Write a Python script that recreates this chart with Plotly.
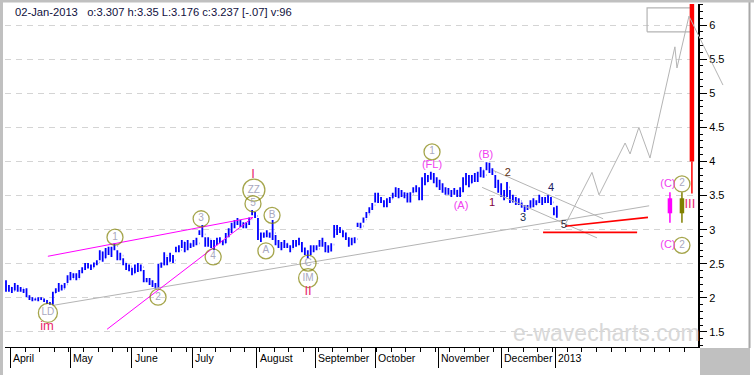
import plotly.graph_objects as go

header = "02-Jan-2013\u00a0\u00a0 o:3.307 h:3.35 L:3.176 c:3.237 [-.07] v:96"

highs = [2.26, 2.19, 2.16, 2.22, 2.19, 2.16, 2.13, 2.14, 2.04, 2.01,
         1.99, 2.01, 2.01, 1.99, 1.97, 1.94, 2.09, 2.14, 2.22, 2.19,
         2.22, 2.33, 2.38, 2.36, 2.36, 2.41, 2.45, 2.51, 2.51, 2.49,
         2.52, 2.55, 2.70, 2.68, 2.73, 2.75, 2.75, 2.80, 2.70, 2.66,
         2.58, 2.51, 2.49, 2.44, 2.49, 2.51, 2.49, 2.41, 2.29, 2.29,
         2.26, 2.22, 2.50, 2.52, 2.67, 2.60, 2.66, 2.63, 2.75, 2.77,
         2.85, 2.82, 2.85, 2.80, 2.85, 2.88, 2.99, 3.07, 2.89, 2.89,
         2.85, 2.85, 2.88, 2.89, 2.85, 2.95, 3.02, 3.10, 3.14, 3.17,
         3.14, 3.11, 3.11, 3.18, 3.29, 3.26, 3.17, 2.96, 2.96, 2.99,
         2.96, 3.14, 2.92, 2.85, 2.82, 2.85, 2.80, 2.77, 2.85, 2.85,
         2.88, 2.82, 2.74, 2.70, 2.77, 2.77, 2.77, 2.85, 2.88, 2.82,
         2.77, 2.80, 3.07, 3.07, 3.04, 2.99, 2.96, 2.89, 2.88, 2.89,
         3.10, 3.10, 3.18, 3.26, 3.33, 3.39, 3.54, 3.54, 3.48, 3.43,
         3.46, 3.48, 3.54, 3.62, 3.61, 3.58, 3.55, 3.54, 3.55, 3.62,
         3.65, 3.62, 3.77, 3.83, 3.80, 3.85, 3.83, 3.77, 3.73, 3.68,
         3.62, 3.61, 3.58, 3.61, 3.58, 3.62, 3.77, 3.83, 3.80, 3.80,
         3.83, 3.85, 3.92, 3.87, 3.99, 3.98, 3.90, 3.80, 3.73, 3.68,
         3.58, 3.70, 3.58, 3.51, 3.48, 3.46, 3.40, 3.36, 3.36, 3.43,
         3.46, 3.43, 3.51, 3.48, 3.48, 3.51, 3.48, 3.33, 3.35]
lows = [2.09, 2.09, 2.07, 2.11, 2.09, 2.09, 2.07, 2.01, 1.97, 1.95,
        1.96, 1.95, 1.97, 1.94, 1.91, 1.90, 1.90, 2.07, 2.09, 2.11,
        2.14, 2.22, 2.26, 2.29, 2.26, 2.29, 2.36, 2.41, 2.43, 2.41,
        2.45, 2.48, 2.55, 2.53, 2.58, 2.63, 2.60, 2.70, 2.55, 2.55,
        2.48, 2.41, 2.39, 2.33, 2.36, 2.38, 2.39, 2.23, 2.23, 2.19,
        2.16, 2.13, 2.14, 2.44, 2.48, 2.48, 2.53, 2.51, 2.67, 2.67,
        2.73, 2.67, 2.70, 2.73, 2.75, 2.77, 2.92, 2.89, 2.75, 2.75,
        2.73, 2.70, 2.77, 2.80, 2.77, 2.80, 2.89, 2.95, 3.02, 3.07,
        3.04, 3.02, 3.02, 3.07, 3.21, 3.17, 2.85, 2.82, 2.88, 2.89,
        2.88, 2.85, 2.77, 2.73, 2.70, 2.73, 2.73, 2.67, 2.73, 2.75,
        2.77, 2.67, 2.63, 2.58, 2.63, 2.67, 2.70, 2.75, 2.75, 2.67,
        2.66, 2.68, 2.88, 2.92, 2.95, 2.89, 2.85, 2.75, 2.77, 2.80,
        3.04, 3.02, 3.10, 3.17, 3.24, 3.29, 3.40, 3.39, 3.39, 3.33,
        3.33, 3.39, 3.46, 3.48, 3.46, 3.48, 3.46, 3.40, 3.40, 3.54,
        3.55, 3.43, 3.43, 3.65, 3.70, 3.73, 3.68, 3.62, 3.58, 3.54,
        3.51, 3.51, 3.48, 3.51, 3.48, 3.48, 3.55, 3.65, 3.62, 3.68,
        3.70, 3.70, 3.77, 3.76, 3.87, 3.83, 3.80, 3.61, 3.54, 3.48,
        3.43, 3.48, 3.39, 3.40, 3.36, 3.36, 3.32, 3.26, 3.29, 3.32,
        3.33, 3.36, 3.39, 3.36, 3.39, 3.39, 3.36, 3.21, 3.176]
closes = [2.12, 2.15, 2.10, 2.18, 2.12, 2.14, 2.09, 2.03, 1.99, 2.00,
          1.98, 1.99, 1.98, 1.96, 1.93, 1.92, 2.07, 2.10, 2.19, 2.13,
          2.20, 2.30, 2.28, 2.33, 2.28, 2.38, 2.42, 2.48, 2.45, 2.44,
          2.50, 2.52, 2.67, 2.58, 2.70, 2.66, 2.72, 2.76, 2.60, 2.62,
          2.52, 2.44, 2.46, 2.36, 2.45, 2.42, 2.45, 2.26, 2.27, 2.22,
          2.20, 2.16, 2.46, 2.48, 2.62, 2.52, 2.62, 2.55, 2.72, 2.70,
          2.82, 2.72, 2.80, 2.76, 2.82, 2.80, 2.96, 2.93, 2.80, 2.86,
          2.76, 2.82, 2.84, 2.82, 2.80, 2.92, 2.98, 3.06, 3.10, 3.12,
          3.08, 3.05, 3.08, 3.15, 3.24, 3.20, 2.88, 2.90, 2.93, 2.92,
          2.90, 2.95, 2.82, 2.78, 2.76, 2.80, 2.76, 2.72, 2.80, 2.83,
          2.80, 2.70, 2.66, 2.62, 2.72, 2.74, 2.72, 2.82, 2.80, 2.70,
          2.72, 2.78, 3.02, 2.97, 3.00, 2.92, 2.88, 2.80, 2.84, 2.86,
          3.08, 3.05, 3.15, 3.22, 3.30, 3.36, 3.50, 3.44, 3.42, 3.36,
          3.42, 3.45, 3.52, 3.56, 3.50, 3.52, 3.50, 3.44, 3.52, 3.58,
          3.60, 3.46, 3.74, 3.70, 3.76, 3.78, 3.72, 3.66, 3.62, 3.57,
          3.54, 3.56, 3.52, 3.58, 3.50, 3.58, 3.72, 3.70, 3.68, 3.76,
          3.74, 3.80, 3.88, 3.80, 3.92, 3.86, 3.84, 3.66, 3.60, 3.52,
          3.48, 3.62, 3.44, 3.46, 3.40, 3.42, 3.35, 3.30, 3.33, 3.40,
          3.36, 3.40, 3.46, 3.40, 3.44, 3.42, 3.40, 3.26, 3.237]
first_open = 2.20

month_labels = ["April", "May", "June", "July", "August", "September",
                "October", "November", "December", "2013"]
month_pos = [1.5, 22, 43, 63.5, 85.5, 105.5, 126, 147.5, 169, 187.5]

y_ticks = [1.5, 2, 2.5, 3, 3.5, 4, 4.5, 5, 5.5, 6]
y_ticktext = ["1.5", "2", "2.5", "3", "3.5", "4", "4.5", "5", "5.5", "6"]

# wave-count trend lines (bar index, price)
mag_upper_x, mag_upper_y = [14.3, 84.3], [2.61, 3.18]
mag_lower_x, mag_lower_y = [34.5, 84.3], [1.54, 3.18]
gray_long_x, gray_long_y = [16.0, 219.5], [1.89, 3.35]
chan_up_x, chan_up_y = [166.2, 203.8], [3.87, 3.16]
chan_lo_x, chan_lo_y = [162.5, 201.7], [3.62, 2.88]
red_h_x, red_h_y = [183.3, 215.4], [2.96, 2.96]
red_s_x, red_s_y = [190.8, 219.1], [3.05, 3.18]
proj_x = [190.8, 200.0, 202.4, 211.3, 213.0, 216.0, 219.8, 228.3, 229.0, 233.1, 244.7]
proj_y = [3.07, 3.84, 3.51, 4.27, 4.11, 4.50, 4.05, 5.68, 5.37, 6.13, 5.12]
box_x, box_y = [218.8, 234.5], [5.90, 6.25]

# target markers: x, thin low, thin high, thick low, thick high
tgt_C = [226.6, 3.10, 3.55, 3.24, 3.46]
tgt_2 = [230.7, 3.10, 3.55, 3.24, 3.46]
tgt_III = [234.1, 3.53, 4.0, 4.0, 6.5]

# circled labels
circ_text = ["LD", "1", "2", "3", "4", "5", "ZZ", "B", "A", "C", "IM", "1", "2", "2"]
circ_x = [14.3, 37.2, 51.9, 66.6, 70.7, 84.3, 84.6, 90.8, 88.7, 103.1, 103.1, 145.4, 230.7, 230.7]
circ_y = [1.78, 2.89, 2.01, 3.16, 2.60, 3.38, 3.58, 3.21, 2.69, 2.51, 2.29, 4.14, 3.67, 2.77]
circ_size = [19, 16, 16, 16, 16, 16, 22, 16, 16, 16, 19, 16, 16, 16]

crim_text = ["im", "I", "II", "III"]
crim_x = [14.0, 84.3, 103.1, 233.4]
crim_y = [1.57, 3.80, 2.09, 3.36]

mag_text = ["(FL)", "(A)", "(B)", "(C)", "(C)"]
mag_x = [145.4, 155.3, 163.8, 225.9, 225.9]
mag_y = [3.95, 3.35, 4.09, 3.67, 2.77]

sub_text = ["1", "2", "3", "4", "5"]
sub_x = [165.9, 171.3, 176.5, 186.0, 190.4]
sub_y = [3.39, 3.83, 3.17, 3.60, 3.07]
sub_col = ["#800040", "#603010", "#203050", "#202060", "#303040"]

# ---------------------------------------------------------------
idx = list(range(len(highs)))
opens = [first_open] + closes[:-1]

X0, X1 = -0.34, 236.18
Y0, Y1 = 1.280, 6.308
W, H = 754, 375
ML, MR, MT, MB = 5, 29, 4, 28
pw = W - ML - MR
ph = H - MT - MB
main_frac = 693 / pw
X1b = X0 + (X1 - X0) / main_frac

FONT = "Liberation Sans, Arial, sans-serif"

fig = go.Figure()

def line(x, y, color, width=1, ax="x"):
    fig.add_trace(go.Scatter(x=x, y=y, mode="lines", line=dict(color=color, width=width),
                             hoverinfo="skip", showlegend=False,
                             xaxis=ax, yaxis="y" if ax == "x" else "y2"))

line(gray_long_x, gray_long_y, "#b4b4b4")
line(chan_up_x, chan_up_y, "#b4b4b4")
line(chan_lo_x, chan_lo_y, "#b4b4b4")
line(mag_upper_x, mag_upper_y, "#ff00ff")
line(mag_lower_x, mag_lower_y, "#ff00ff")
line(red_h_x, red_h_y, "#ff0000", 1.6)
line(red_s_x, red_s_y, "#ff0000", 1.6)
line(proj_x, proj_y, "#b4b4b4", 1, ax="x2")
line([box_x[0], box_x[1], box_x[1], box_x[0], box_x[0]],
     [box_y[0], box_y[0], box_y[1], box_y[1], box_y[0]], "#b4b4b4", 1.2)

for t, col in [(tgt_C, "#ff00ff"), (tgt_2, "#808000"), (tgt_III, "#ff0000")]:
    line([t[0], t[0]], [t[1], t[2]], col, 1.5)
    line([t[0], t[0]], [t[3], t[4]], col, 4.5)

fig.add_trace(go.Ohlc(x=idx, open=opens, high=highs, low=lows, close=closes,
                      increasing=dict(line=dict(color="#0000ff", width=1.8)),
                      decreasing=dict(line=dict(color="#0000ff", width=1.8)),
                      tickwidth=0.1, hoverinfo="skip", showlegend=False))

fig.add_trace(go.Scatter(x=circ_x, y=circ_y, mode="markers+text", text=circ_text,
                         textposition="middle center",
                         textfont=dict(family=FONT, size=10, color="#a8a8c0"),
                         marker=dict(size=circ_size, color="rgba(255,255,255,0)",
                                     line=dict(color="#808000", width=1.3)),
                         hoverinfo="skip", showlegend=False))
fig.add_trace(go.Scatter(x=crim_x, y=crim_y, mode="text", text=crim_text,
                         textfont=dict(family=FONT, size=13, color="#e8286e"),
                         hoverinfo="skip", showlegend=False))
fig.add_trace(go.Scatter(x=mag_x, y=mag_y, mode="text", text=mag_text,
                         textfont=dict(family=FONT, size=11, color="#f040f0"),
                         hoverinfo="skip", showlegend=False))
fig.add_trace(go.Scatter(x=sub_x, y=sub_y, mode="text", text=sub_text,
                         textfont=dict(family=FONT, size=11, color=sub_col),
                         hoverinfo="skip", showlegend=False))

annotations = [dict(xref="paper", yref="paper", x=(13 - ML) / pw, y=1 - 8 / ph,
                    xanchor="left", yanchor="middle", text=header, showarrow=False,
                    font=dict(family=FONT, size=11.2, color="#101040")),
               dict(xref="x", yref="y", x=204.8, y=1.49, text="e-wavecharts.com",
                    showarrow=False, font=dict(family="Arial, Liberation Sans", size=23, color="#d8d8d8"))]
for lab, pos in zip(month_labels, month_pos):
    annotations.append(dict(xref="x", yref="paper", x=pos, y=0, xanchor="left", yanchor="top",
                            xshift=1, yshift=-3, text=lab, showarrow=False,
                            font=dict(family=FONT, size=10.5, color="#000000")))

def py(pix):
    return (H - MB - pix) / ph

def px(pix):
    return (pix - ML) / pw

shapes = [
    dict(type="rect", xref="paper", yref="paper", x0=px(700), x1=px(750),
         y0=py(348), y1=py(H + 2), fillcolor="#c0c0c0", line=dict(width=0), layer="below"),
    dict(type="line", xref="paper", yref="paper", x0=px(749.5), x1=px(749.5),
         y0=py(0), y1=py(348), line=dict(color="#a8a8a8", width=2)),
    dict(type="rect", xref="paper", yref="paper", x0=px(-2), x1=px(3),
         y0=py(H + 2), y1=py(-2), fillcolor="#c0c0c0", line=dict(width=0)),
    dict(type="rect", xref="paper", yref="paper", x0=px(-2), x1=px(756),
         y0=py(2.5), y1=py(-2), fillcolor="#c0c0c0", line=dict(width=0)),
]

fig.update_layout(
    width=W, height=H, margin=dict(l=ML, r=MR, t=MT, b=MB, autoexpand=False),
    paper_bgcolor="#ffffff", plot_bgcolor="rgba(0,0,0,0)",
    showlegend=False, annotations=annotations, shapes=shapes,
    xaxis=dict(domain=[0, main_frac], range=[X0, X1], showgrid=False, zeroline=False,
               rangeslider=dict(visible=False),
               tickmode="array", tickvals=month_pos, showticklabels=False,
               ticks="outside", ticklen=20, tickcolor="#000000", tickwidth=1,
               minor=dict(tickmode="linear", tick0=1.5, dtick=5, ticks="outside",
                          ticklen=4, tickcolor="#000000", showgrid=False),
               showline=True, linecolor="#000000", linewidth=1),
    yaxis=dict(range=[Y0, Y1], side="right", anchor="x", tickmode="array",
               tickvals=y_ticks, ticktext=y_ticktext,
               tickfont=dict(family=FONT, size=11, color="#000000"),
               ticks="outside", ticklen=7, tickcolor="#000000",
               minor=dict(tickmode="linear", tick0=1.5, dtick=0.1, ticks="outside",
                          ticklen=3, tickcolor="#000000", showgrid=False),
               showgrid=True, gridcolor="#d4d4d4", griddash="6px,5px", gridwidth=1,
               zeroline=False, showline=True, linecolor="#000000", linewidth=2),
    xaxis2=dict(domain=[0, 1], range=[X0, X1b], visible=False, anchor="y2"),
    yaxis2=dict(range=[Y0, Y1], visible=False, anchor="x2"),
)

fig.write_html("out.html", config={"displayModeBar": False},
               post_script="document.body.style.margin='0px';document.body.style.overflow='hidden';")
